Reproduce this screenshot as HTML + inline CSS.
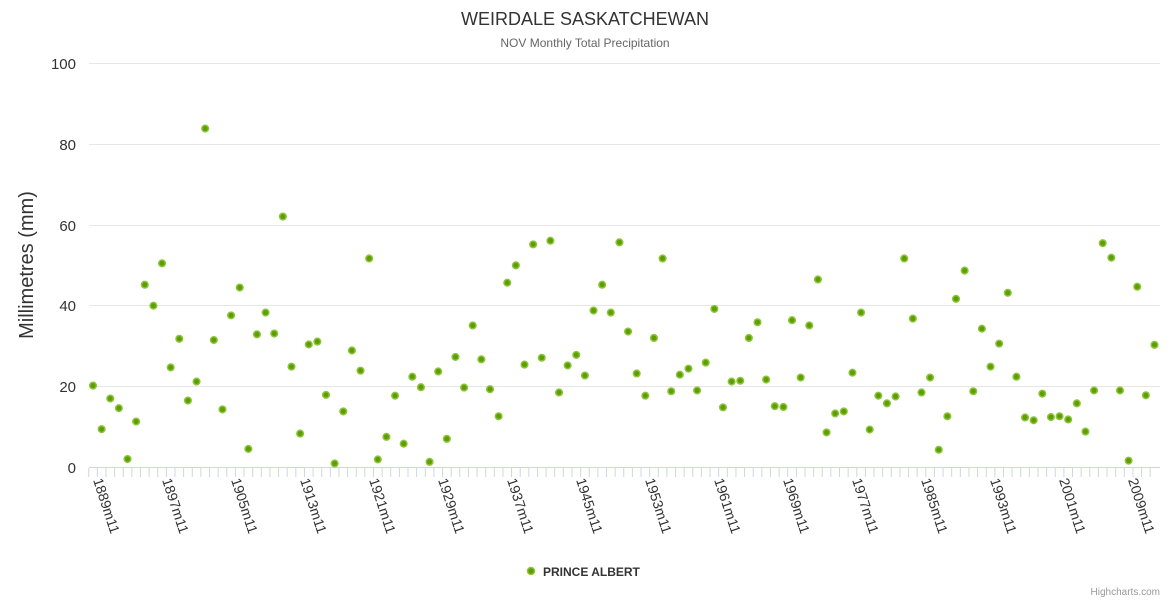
<!DOCTYPE html>
<html><head><meta charset="utf-8"><style>
body{margin:0;background:#fff;font-family:"Liberation Sans",sans-serif;}
svg text{font-family:"Liberation Sans",sans-serif;}
</style></head><body>
<svg id="s" width="1170" height="600" xmlns="http://www.w3.org/2000/svg">
<rect width="1170" height="600" fill="#fff"/>
<text x="585" y="25" text-anchor="middle" font-size="18" fill="#333">WEIRDALE SASKATCHEWAN</text>
<text x="585" y="47" text-anchor="middle" font-size="12" fill="#666">NOV Monthly Total Precipitation</text>
<g stroke="#e6e6e6" stroke-width="1">
<line x1="89" x2="1160" y1="63.5" y2="63.5"/>
<line x1="89" x2="1160" y1="144.5" y2="144.5"/>
<line x1="89" x2="1160" y1="225.5" y2="225.5"/>
<line x1="89" x2="1160" y1="305.5" y2="305.5"/>
<line x1="89" x2="1160" y1="386.5" y2="386.5"/>
</g>
<line x1="89" x2="1160" y1="467.5" y2="467.5" stroke="#ccd6eb"/>
<g font-size="15" fill="#333" text-anchor="end">
<text x="76" y="69">100</text>
<text x="76" y="150">80</text>
<text x="76" y="231">60</text>
<text x="76" y="311">40</text>
<text x="76" y="392">20</text>
<text x="76" y="473">0</text>
</g>
<text transform="translate(33,265) rotate(-90)" text-anchor="middle" font-size="20" fill="#333">Millimetres (mm)</text>
<g id="ticks"></g>
<g font-size="14" fill="#333">
<text transform="translate(93,480) rotate(72)">1889m11</text>
<text transform="translate(162,480) rotate(72)">1897m11</text>
<text transform="translate(231,480) rotate(72)">1905m11</text>
<text transform="translate(300,480) rotate(72)">1913m11</text>
<text transform="translate(369,480) rotate(72)">1921m11</text>
<text transform="translate(438,480) rotate(72)">1929m11</text>
<text transform="translate(507,480) rotate(72)">1937m11</text>
<text transform="translate(576,480) rotate(72)">1945m11</text>
<text transform="translate(645,480) rotate(72)">1953m11</text>
<text transform="translate(714,480) rotate(72)">1961m11</text>
<text transform="translate(783,480) rotate(72)">1969m11</text>
<text transform="translate(852,480) rotate(72)">1977m11</text>
<text transform="translate(921,480) rotate(72)">1985m11</text>
<text transform="translate(990,480) rotate(72)">1993m11</text>
<text transform="translate(1059,480) rotate(72)">2001m11</text>
<text transform="translate(1128,480) rotate(72)">2009m11</text>
</g>
<g id="pts"></g>
<circle cx="531" cy="571" r="3.5" fill="#5e9e00" stroke="#8cc43a" stroke-width="1.5"/>
<text x="543" y="576" font-size="12" font-weight="bold" fill="#333">PRINCE ALBERT</text>
<text x="1160" y="595" text-anchor="end" font-size="10" fill="#999">Highcharts.com</text>
</svg>
<script>
var d=[20.3,9.5,17.1,14.7,2.1,11.4,45.3,40.1,50.6,24.8,31.9,16.6,21.3,84,31.6,14.4,37.7,44.6,4.6,33,38.4,33.2,62.2,25,8.4,30.5,31.2,18,1,13.9,29,24,51.8,2,7.6,17.8,5.9,22.5,19.9,1.4,23.8,7.1,27.4,19.8,35.2,26.8,19.4,12.7,45.8,50.1,25.5,55.3,27.2,56.2,18.6,25.3,27.9,22.8,38.9,45.3,38.4,55.8,33.7,23.3,17.8,32.1,51.8,18.9,23,24.5,19.1,26,39.3,14.9,21.3,21.5,32.1,36,21.8,15.2,15,36.5,22.3,35.2,46.6,8.7,13.4,13.9,23.5,38.4,9.4,17.8,15.9,17.6,51.8,36.9,18.6,22.3,4.4,12.7,41.8,48.8,18.9,34.4,25,30.7,43.3,22.5,12.4,11.7,18.3,12.5,12.7,11.9,15.9,8.9,19.1,55.6,52,19.1,1.7,44.8,17.9,30.4];
var ns="http://www.w3.org/2000/svg",p=document.getElementById("pts"),t=document.getElementById("ticks");
for(var i=0;i<d.length;i++){var x=93+i*8.63;
var l=document.createElementNS(ns,"line");l.setAttribute("x1",x-4.3);l.setAttribute("x2",x-4.3);l.setAttribute("y1",468);l.setAttribute("y2",477);l.setAttribute("stroke","#ccd6eb");t.appendChild(l);
var c=document.createElementNS(ns,"circle");c.setAttribute("cx",x);c.setAttribute("cy",467.5-d[i]*4.035);c.setAttribute("r",3.3);c.setAttribute("fill","#5e9e00");c.setAttribute("stroke","#8cc43a");c.setAttribute("stroke-width","1.5");p.appendChild(c);}
</script>
</body></html>
